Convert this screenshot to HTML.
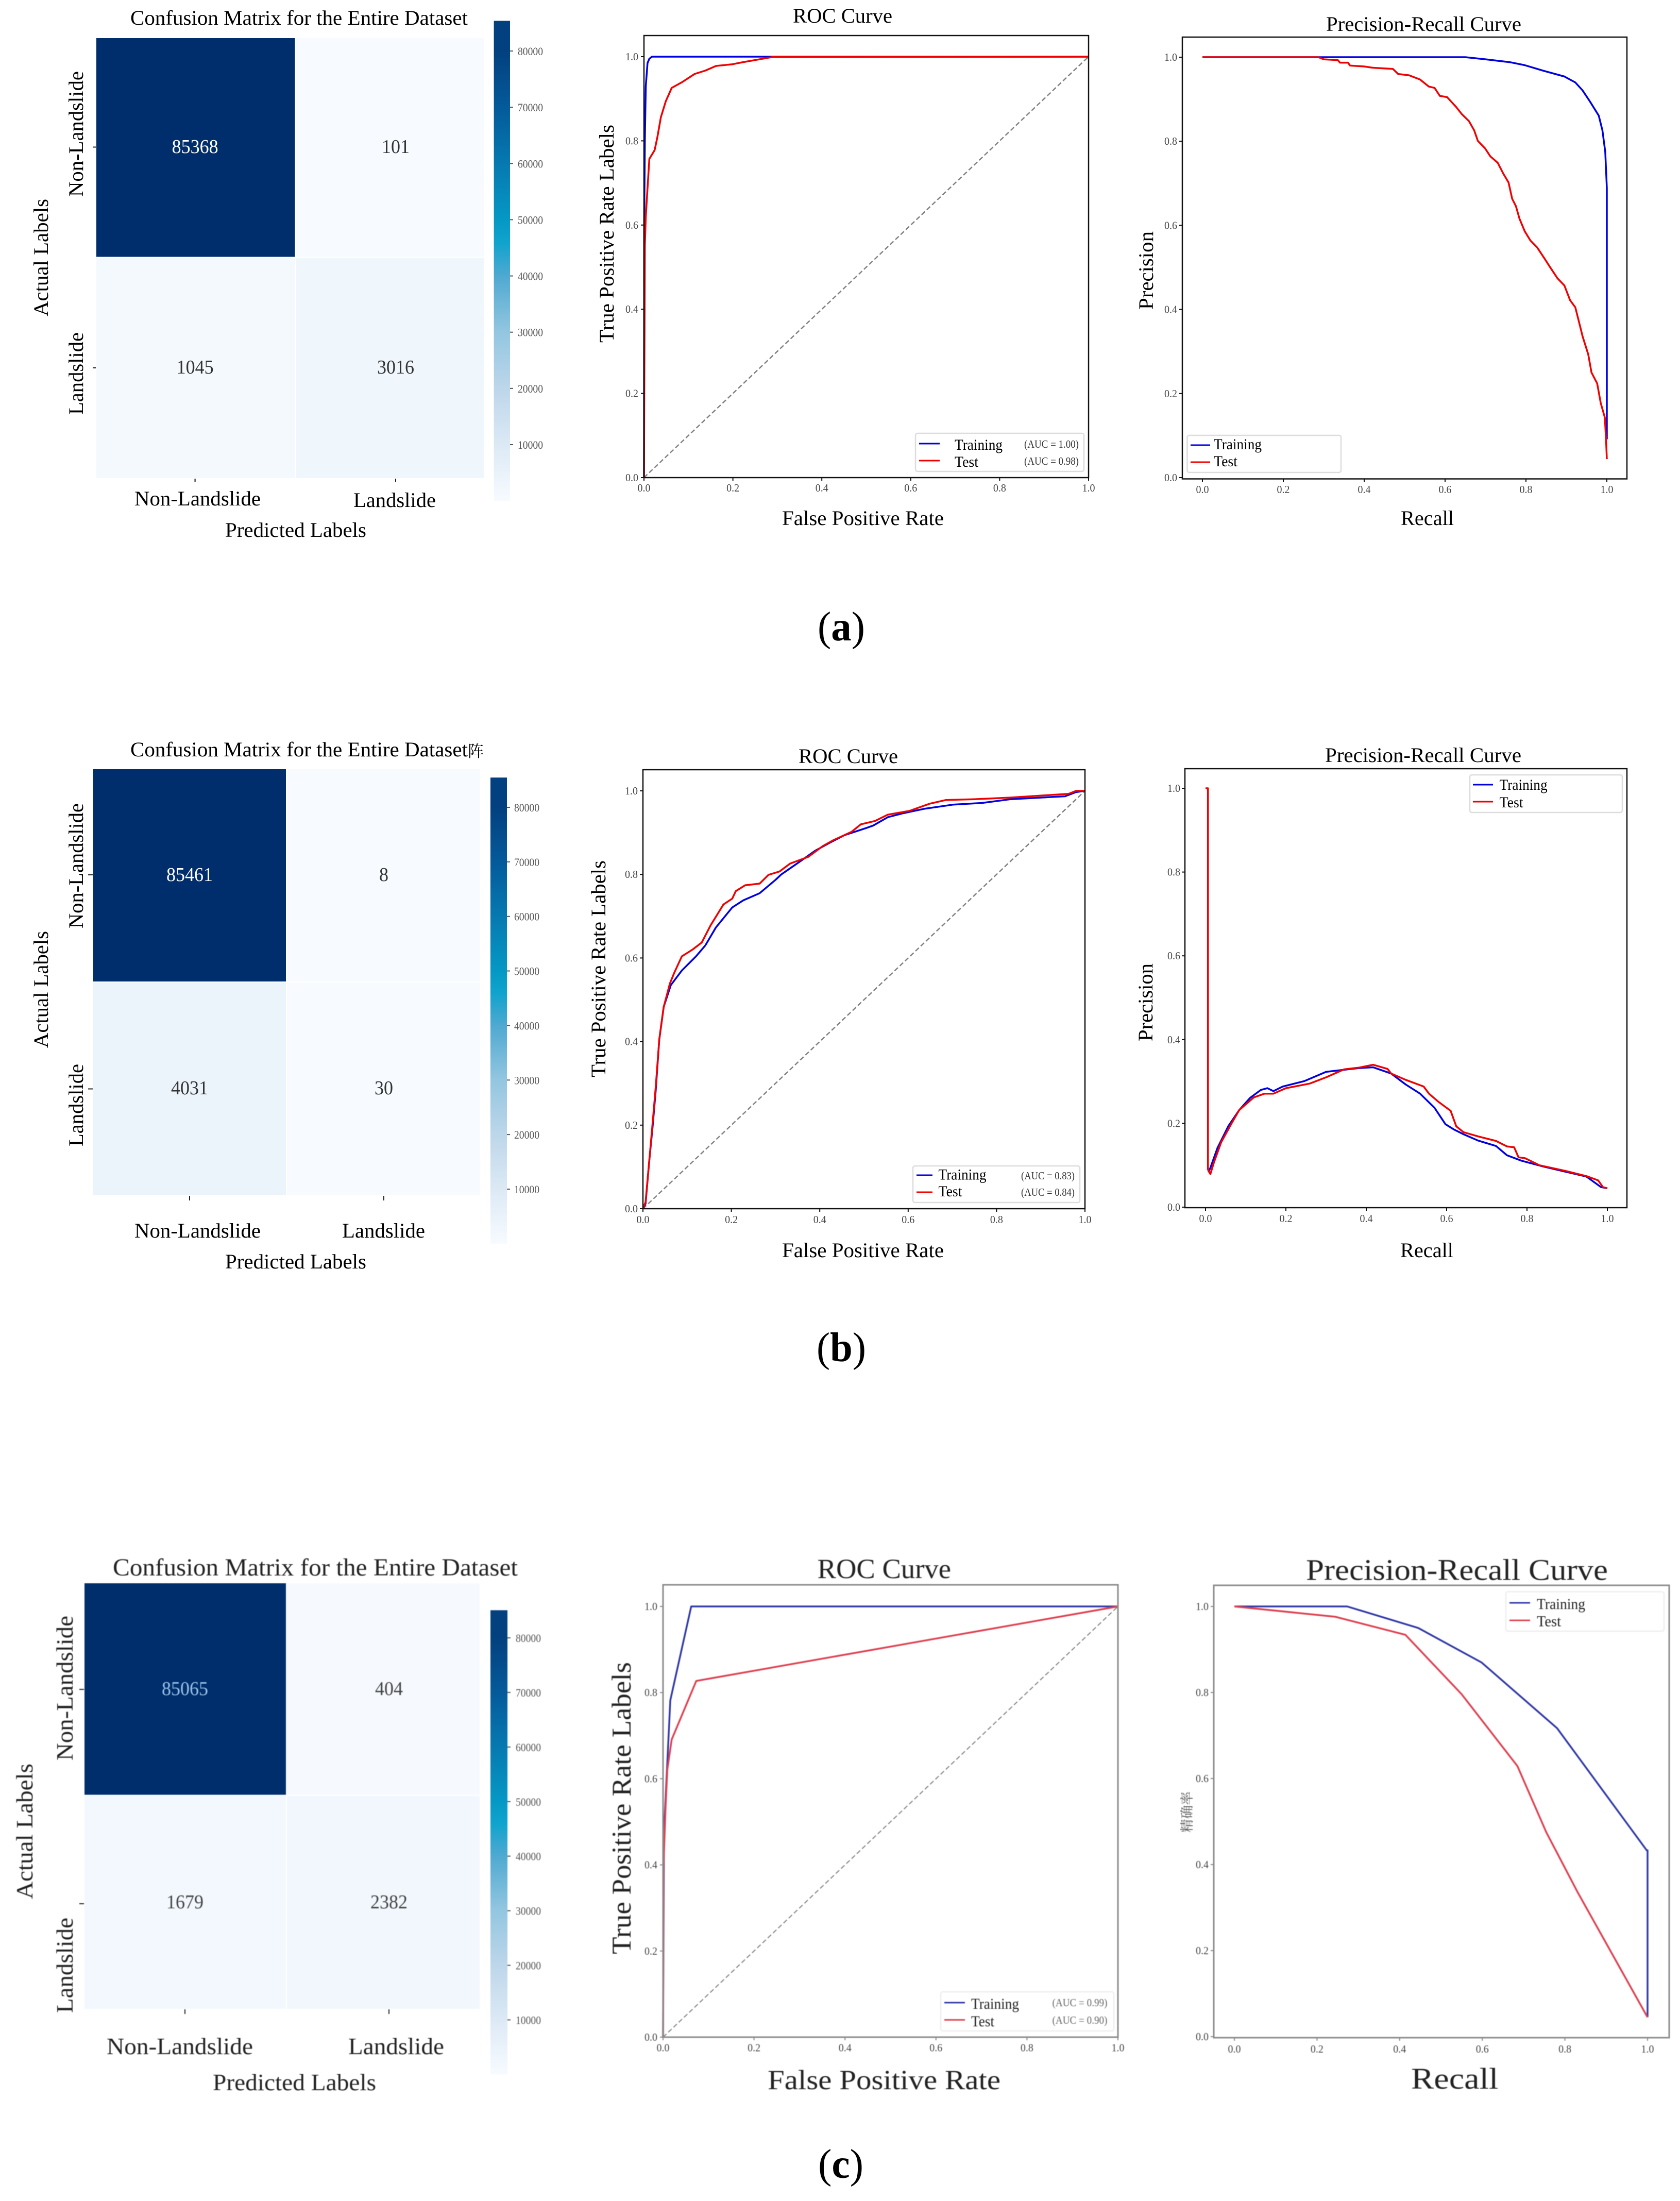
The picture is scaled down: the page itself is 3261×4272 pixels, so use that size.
<!DOCTYPE html>
<html lang="en">
<head>
<meta charset="utf-8">
<title>Confusion matrices, ROC and precision-recall curves</title>
<style>
html,body{margin:0;padding:0;background:#fff;}
svg{display:block;}
text{font-family:"Liberation Serif","Noto Serif CJK SC",serif;fill:#000;}
.t{font-size:40px;}
.leg{font-size:30px;}
.auc{font-size:21px;fill:#333;}
.cap{font-size:80px;}
.lb{fill:#fff;stroke:#dcdcdc;stroke-width:2.5;}
.soft{filter:blur(0.9px);}
.soft text{fill:#222;}
</style>
</head>
<body>
<svg id="figure" xmlns="http://www.w3.org/2000/svg" width="3261" height="4272" viewBox="0 0 3261 4272">
<rect x="0" y="0" width="3261" height="4272" fill="#ffffff"/>
<defs id="defs"></defs>

<!-- ROW A -->
<g>
  <g id="cm-a"></g>
  <g>
    <text class="t" x="253" y="48" textLength="655" lengthAdjust="spacingAndGlyphs">Confusion Matrix for the Entire Dataset</text>
    <text class="t" transform="translate(161,382) rotate(-90)" textLength="244" lengthAdjust="spacingAndGlyphs">Non-Landslide</text>
    <text class="t" transform="translate(161,805) rotate(-90)" textLength="160" lengthAdjust="spacingAndGlyphs">Landslide</text>
    <text class="t" transform="translate(93,614) rotate(-90)" textLength="228" lengthAdjust="spacingAndGlyphs">Actual Labels</text>
    <text class="t" x="261" y="981" textLength="245" lengthAdjust="spacingAndGlyphs">Non-Landslide</text>
    <text class="t" x="686" y="984" textLength="160" lengthAdjust="spacingAndGlyphs">Landslide</text>
    <text class="t" x="437" y="1042" textLength="274" lengthAdjust="spacingAndGlyphs">Predicted Labels</text>
  </g>

  <g id="roc-a"></g>
  <g>
    <text class="t" x="1539" y="44" textLength="193" lengthAdjust="spacingAndGlyphs">ROC Curve</text>
    <text class="t" transform="translate(1191,665) rotate(-90)" textLength="423" lengthAdjust="spacingAndGlyphs">True Positive Rate Labels</text>
    <text class="t" x="1518" y="1019" textLength="314" lengthAdjust="spacingAndGlyphs">False Positive Rate</text>
    <g>
      <rect class="lb" x="1777" y="841" width="327" height="74" rx="4"/>
      <line x1="1784" x2="1824" y1="861" y2="861" stroke="#0000e0" stroke-width="3"/>
      <line x1="1784" x2="1824" y1="894" y2="894" stroke="#f00000" stroke-width="3"/>
      <text class="leg" x="1853" y="873" textLength="93" lengthAdjust="spacingAndGlyphs">Training</text>
      <text class="leg" x="1853" y="906" textLength="46" lengthAdjust="spacingAndGlyphs">Test</text>
      <text class="auc" x="1988" y="869" textLength="106" lengthAdjust="spacingAndGlyphs">(AUC = 1.00)</text>
      <text class="auc" x="1988" y="902" textLength="106" lengthAdjust="spacingAndGlyphs">(AUC = 0.98)</text>
    </g>
  </g>

  <g id="pr-a"></g>
  <g>
    <text class="t" x="2574" y="60" textLength="379" lengthAdjust="spacingAndGlyphs">Precision-Recall Curve</text>
    <text class="t" transform="translate(2238,601) rotate(-90)" textLength="152" lengthAdjust="spacingAndGlyphs">Precision</text>
    <text class="t" x="2719" y="1019" textLength="103" lengthAdjust="spacingAndGlyphs">Recall</text>
    <g>
      <rect class="lb" x="2304.5" y="845" width="298.5" height="72" rx="4"/>
      <line x1="2311" x2="2349" y1="864" y2="864" stroke="#0000e0" stroke-width="3"/>
      <line x1="2311" x2="2349" y1="897" y2="897" stroke="#f00000" stroke-width="3"/>
      <text class="leg" x="2356" y="872" textLength="93" lengthAdjust="spacingAndGlyphs">Training</text>
      <text class="leg" x="2356" y="905" textLength="46" lengthAdjust="spacingAndGlyphs">Test</text>
    </g>
  </g>
  <text class="cap" x="1587" y="1243" textLength="92" lengthAdjust="spacingAndGlyphs">(<tspan font-weight="bold">a</tspan>)</text>
</g>

<!-- ROW B -->
<g>
  <g id="cm-b"></g>
  <g>
    <text class="t" x="253" y="1468" textLength="655" lengthAdjust="spacingAndGlyphs">Confusion Matrix for the Entire Dataset</text>
    <text x="908" y="1469" style="font-size:31px;font-family:'Liberation Serif','Noto Serif CJK SC',serif">阵</text>
    <text class="t" transform="translate(161,1802) rotate(-90)" textLength="243" lengthAdjust="spacingAndGlyphs">Non-Landslide</text>
    <text class="t" transform="translate(161,2225) rotate(-90)" textLength="160" lengthAdjust="spacingAndGlyphs">Landslide</text>
    <text class="t" transform="translate(93,2034) rotate(-90)" textLength="227" lengthAdjust="spacingAndGlyphs">Actual Labels</text>
    <text class="t" x="261" y="2402" textLength="245" lengthAdjust="spacingAndGlyphs">Non-Landslide</text>
    <text class="t" x="664" y="2402" textLength="161" lengthAdjust="spacingAndGlyphs">Landslide</text>
    <text class="t" x="437" y="2462" textLength="274" lengthAdjust="spacingAndGlyphs">Predicted Labels</text>
  </g>

  <g id="roc-b"></g>
  <g>
    <text class="t" x="1550" y="1481" textLength="193" lengthAdjust="spacingAndGlyphs">ROC Curve</text>
    <text class="t" transform="translate(1175,2091) rotate(-90)" textLength="421" lengthAdjust="spacingAndGlyphs">True Positive Rate Labels</text>
    <text class="t" x="1518" y="2440" textLength="314" lengthAdjust="spacingAndGlyphs">False Positive Rate</text>
    <g>
      <rect class="lb" x="1772" y="2263" width="324" height="71" rx="4"/>
      <line x1="1779" x2="1810" y1="2281" y2="2281" stroke="#0000e0" stroke-width="3"/>
      <line x1="1779" x2="1810" y1="2314" y2="2314" stroke="#f00000" stroke-width="3"/>
      <text class="leg" x="1821.5" y="2289.5" textLength="93" lengthAdjust="spacingAndGlyphs">Training</text>
      <text class="leg" x="1821.5" y="2322" textLength="46" lengthAdjust="spacingAndGlyphs">Test</text>
      <text class="auc" x="1982" y="2289" textLength="104" lengthAdjust="spacingAndGlyphs">(AUC = 0.83)</text>
      <text class="auc" x="1982" y="2321" textLength="104" lengthAdjust="spacingAndGlyphs">(AUC = 0.84)</text>
    </g>
  </g>

  <g id="pr-b"></g>
  <g>
    <text class="t" x="2572" y="1479" textLength="381" lengthAdjust="spacingAndGlyphs">Precision-Recall Curve</text>
    <text class="t" transform="translate(2237,2021) rotate(-90)" textLength="151" lengthAdjust="spacingAndGlyphs">Precision</text>
    <text class="t" x="2718" y="2440" textLength="103" lengthAdjust="spacingAndGlyphs">Recall</text>
    <g>
      <rect class="lb" x="2853" y="1504" width="296" height="73" rx="4"/>
      <line x1="2859" x2="2898" y1="1523" y2="1523" stroke="#0000e0" stroke-width="3"/>
      <line x1="2859" x2="2898" y1="1556" y2="1556" stroke="#f00000" stroke-width="3"/>
      <text class="leg" x="2910.6" y="1533" textLength="93" lengthAdjust="spacingAndGlyphs">Training</text>
      <text class="leg" x="2910.6" y="1567" textLength="46" lengthAdjust="spacingAndGlyphs">Test</text>
    </g>
  </g>
  <text class="cap" x="1585" y="2642" textLength="96" lengthAdjust="spacingAndGlyphs">(<tspan font-weight="bold">b</tspan>)</text>
</g>

<!-- ROW C -->
<g>
  <g class="soft">
    <g id="cm-c"></g>
    <g>
      <text x="219" y="3058" style="font-size:48px" textLength="786" lengthAdjust="spacingAndGlyphs">Confusion Matrix for the Entire Dataset</text>
      <text style="font-size:46px" transform="translate(141,3417) rotate(-90)" textLength="281" lengthAdjust="spacingAndGlyphs">Non-Landslide</text>
      <text style="font-size:46px" transform="translate(141,3907) rotate(-90)" textLength="185" lengthAdjust="spacingAndGlyphs">Landslide</text>
      <text style="font-size:46px" transform="translate(63,3686) rotate(-90)" textLength="263" lengthAdjust="spacingAndGlyphs">Actual Labels</text>
      <text style="font-size:46px" x="207" y="3987" textLength="284" lengthAdjust="spacingAndGlyphs">Non-Landslide</text>
      <text style="font-size:46px" x="676" y="3987" textLength="186" lengthAdjust="spacingAndGlyphs">Landslide</text>
      <text style="font-size:46px" x="413" y="4057" textLength="317" lengthAdjust="spacingAndGlyphs">Predicted Labels</text>
    </g>

    <g id="roc-c"></g>
    <g>
      <text style="font-size:54px" x="1586.5" y="3063" textLength="259.5" lengthAdjust="spacingAndGlyphs">ROC Curve</text>
      <text style="font-size:53px" transform="translate(1224,3793) rotate(-90)" textLength="567" lengthAdjust="spacingAndGlyphs">True Positive Rate Labels</text>
      <text style="font-size:54px" x="1490" y="4055" textLength="452" lengthAdjust="spacingAndGlyphs">False Positive Rate</text>
      <g>
        <rect class="lb" x="1826" y="3866" width="336" height="76" rx="4" style="stroke:#eeeeee"/>
        <line x1="1833" x2="1873" y1="3887" y2="3887" stroke="#3038a8" stroke-width="3"/>
        <line x1="1833" x2="1873" y1="3920.5" y2="3920.5" stroke="#e04050" stroke-width="3"/>
        <text class="leg" x="1885" y="3899" textLength="93" lengthAdjust="spacingAndGlyphs">Training</text>
        <text class="leg" x="1885" y="3933" textLength="45" lengthAdjust="spacingAndGlyphs">Test</text>
        <text class="auc" x="2042.5" y="3894" textLength="107" lengthAdjust="spacingAndGlyphs" style="fill:#666">(AUC = 0.99)</text>
        <text class="auc" x="2042.5" y="3928" textLength="107" lengthAdjust="spacingAndGlyphs" style="fill:#666">(AUC = 0.90)</text>
      </g>
    </g>

    <g id="pr-c"></g>
    <g>
      <text style="font-size:58px" x="2535" y="3066.5" textLength="586" lengthAdjust="spacingAndGlyphs">Precision-Recall Curve</text>
      <text transform="translate(2313,3557) rotate(-90)" style="font-size:26px;fill:#555" textLength="80" lengthAdjust="spacingAndGlyphs">精确率</text>
      <text style="font-size:58px" x="2739" y="4054" textLength="169.5" lengthAdjust="spacingAndGlyphs">Recall</text>
      <g>
        <rect class="lb" x="2923" y="3089.5" width="307" height="76.5" rx="4" style="stroke:#eeeeee"/>
        <line x1="2930" x2="2970" y1="3111" y2="3111" stroke="#3038a8" stroke-width="3"/>
        <line x1="2930" x2="2970" y1="3145" y2="3145" stroke="#e04050" stroke-width="3"/>
        <text class="leg" x="2983" y="3123" textLength="94" lengthAdjust="spacingAndGlyphs">Training</text>
        <text class="leg" x="2983" y="3156.5" textLength="47" lengthAdjust="spacingAndGlyphs">Test</text>
      </g>
    </g>
  </g>
  <text class="cap" x="1588" y="4227" textLength="88" lengthAdjust="spacingAndGlyphs">(<tspan font-weight="bold">c</tspan>)</text>
</g>
</svg>

<script>
// ---- confusion matrix values (row by row) ----
const cmAValues = [85368, 101, 1045, 3016];
const cmBValues = [85461, 8, 4031, 30];
const cmCValues = [85065, 404, 1679, 2382];
const colorbarTickValues = [10000, 20000, 30000, 40000, 50000, 60000, 70000, 80000];
const colorbarTickLabels = ['10000', '20000', '30000', '40000', '50000', '60000', '70000', '80000'];

// ---- axis ticks shared by ROC / PR charts ----
const rateTickValues = [0, 0.2, 0.4, 0.6, 0.8, 1];
const rateTickLabels = ['0.0', '0.2', '0.4', '0.6', '0.8', '1.0'];

// ---- ROC (a) ----
const rocATrainX = [0, 0.0005, 0.002, 0.004, 0.008, 0.012, 0.018, 1];
const rocATrainY = [0, 0.6, 0.8, 0.93, 0.985, 0.995, 1, 1];
const rocATestX = [0, 0.001, 0.002, 0.004, 0.007, 0.012, 0.024, 0.03, 0.038, 0.049, 0.0625, 0.085, 0.114, 0.138, 0.162, 0.199, 0.223, 0.256, 0.288, 1];
const rocATestY = [0, 0.3, 0.55, 0.62, 0.67, 0.757, 0.778, 0.808, 0.856, 0.894, 0.926, 0.939, 0.959, 0.967, 0.978, 0.982, 0.987, 0.993, 0.999, 1];

// ---- PR (a) ----
const prATrainX = [0, 0.65, 0.7, 0.761, 0.797, 0.842, 0.895, 0.922, 0.94, 0.958, 0.98, 0.989, 0.996, 1, 1];
const prATrainY = [1, 1, 0.995, 0.988, 0.981, 0.968, 0.954, 0.94, 0.921, 0.895, 0.861, 0.826, 0.775, 0.689, 0.091];
const prATestX = [0, 0.287, 0.3, 0.335, 0.34, 0.36, 0.365, 0.4, 0.42, 0.471, 0.484, 0.511, 0.538, 0.56, 0.574, 0.587, 0.605, 0.627, 0.641, 0.659, 0.672, 0.681, 0.699, 0.712, 0.73, 0.744, 0.757, 0.766, 0.775, 0.784, 0.797, 0.811, 0.828, 0.846, 0.86, 0.878, 0.895, 0.909, 0.922, 0.931, 0.94, 0.954, 0.962, 0.976, 0.985, 0.995, 0.998, 1];
const prATestY = [1, 1, 0.995, 0.993, 0.987, 0.987, 0.98, 0.978, 0.975, 0.972, 0.96, 0.957, 0.947, 0.93, 0.927, 0.908, 0.905, 0.882, 0.865, 0.848, 0.826, 0.801, 0.783, 0.764, 0.749, 0.723, 0.702, 0.663, 0.646, 0.616, 0.586, 0.564, 0.547, 0.521, 0.5, 0.474, 0.457, 0.422, 0.405, 0.371, 0.336, 0.293, 0.25, 0.224, 0.177, 0.143, 0.091, 0.044];

// ---- ROC (b) ----
const rocBTrainX = [0, 0.006, 0.014, 0.022, 0.029, 0.037, 0.047, 0.063, 0.088, 0.12, 0.141, 0.165, 0.202, 0.227, 0.264, 0.3, 0.313, 0.358, 0.39, 0.423, 0.456, 0.505, 0.521, 0.554, 0.587, 0.636, 0.701, 0.767, 0.832, 0.955, 0.98, 1];
const rocBTrainY = [0, 0.012, 0.111, 0.198, 0.284, 0.405, 0.483, 0.535, 0.57, 0.604, 0.63, 0.673, 0.721, 0.738, 0.755, 0.787, 0.8, 0.833, 0.857, 0.876, 0.894, 0.911, 0.917, 0.937, 0.946, 0.957, 0.967, 0.971, 0.98, 0.987, 0.997, 1];
const rocBTestX = [0, 0.006, 0.014, 0.022, 0.029, 0.037, 0.047, 0.061, 0.071, 0.088, 0.112, 0.133, 0.153, 0.182, 0.202, 0.21, 0.231, 0.264, 0.284, 0.309, 0.333, 0.374, 0.407, 0.431, 0.472, 0.493, 0.525, 0.554, 0.603, 0.648, 0.685, 0.75, 0.832, 0.963, 0.98, 1];
const rocBTestY = [0, 0.016, 0.111, 0.207, 0.293, 0.405, 0.483, 0.539, 0.565, 0.604, 0.62, 0.637, 0.678, 0.728, 0.742, 0.76, 0.774, 0.778, 0.799, 0.807, 0.826, 0.842, 0.868, 0.882, 0.902, 0.92, 0.928, 0.943, 0.952, 0.969, 0.978, 0.98, 0.984, 0.993, 1, 1];

// ---- PR (b) ----
const prBTrainX = [0.007, 0.012, 0.03, 0.057, 0.084, 0.111, 0.138, 0.154, 0.169, 0.192, 0.246, 0.3, 0.336, 0.381, 0.417, 0.462, 0.498, 0.534, 0.57, 0.597, 0.619, 0.642, 0.678, 0.723, 0.75, 0.786, 0.84, 0.894, 0.948, 0.984, 1];
const prBTrainY = [0.083, 0.094, 0.142, 0.194, 0.232, 0.261, 0.28, 0.284, 0.277, 0.288, 0.301, 0.323, 0.327, 0.332, 0.334, 0.319, 0.293, 0.271, 0.237, 0.198, 0.185, 0.174, 0.159, 0.146, 0.124, 0.111, 0.097, 0.085, 0.073, 0.048, 0.045];
const prBTestX = [0, 0.006, 0.006, 0.012, 0.021, 0.039, 0.066, 0.084, 0.12, 0.147, 0.169, 0.2, 0.259, 0.3, 0.345, 0.381, 0.417, 0.453, 0.462, 0.498, 0.543, 0.556, 0.579, 0.61, 0.624, 0.642, 0.678, 0.723, 0.75, 0.768, 0.779, 0.795, 0.831, 0.894, 0.948, 0.977, 0.989, 1];
const prBTestY = [1, 1, 0.09, 0.079, 0.107, 0.155, 0.202, 0.232, 0.262, 0.271, 0.271, 0.284, 0.295, 0.31, 0.329, 0.333, 0.34, 0.33, 0.319, 0.304, 0.288, 0.271, 0.252, 0.23, 0.193, 0.179, 0.169, 0.158, 0.145, 0.143, 0.119, 0.117, 0.1, 0.087, 0.074, 0.064, 0.048, 0.045];

// ---- ROC (c) ----
const rocCTrainX = [0, 0.002, 0.016, 0.062, 1];
const rocCTrainY = [0, 0.475, 0.782, 1, 1];
const rocCTestX = [0, 0.001, 0.006, 0.0095, 0.019, 0.073, 1];
const rocCTestY = [0, 0.4, 0.544, 0.622, 0.691, 0.827, 1];

// ---- PR (c) ----
const prCTrainX = [0, 0.273, 0.445, 0.598, 0.781, 0.998, 1, 1];
const prCTrainY = [1, 1, 0.95, 0.87, 0.717, 0.433, 0.433, 0.045];
const prCTestX = [0, 0.244, 0.414, 0.55, 0.685, 0.755, 0.83, 1];
const prCTestY = [1, 0.976, 0.934, 0.796, 0.629, 0.475, 0.337, 0.045];

// ---- colormap ramp of the heatmaps ----
const rampValues = [0, 10000, 20000, 30000, 40000, 46000, 50000, 60000, 70000, 80000, 85469];
const rampColors = ['#f7fbff', '#dce9f5', '#bdd6ea', '#93c6e0', '#4fa9d1', '#0fa3cd', '#0598c4', '#0679b0', '#045a9a', '#03407f', '#002d6b'];

const NS = 'http://www.w3.org/2000/svg';

function make(tag, attrs, parent) {
  const node = document.createElementNS(NS, tag);
  for (const key in attrs) node.setAttribute(key, attrs[key]);
  parent.appendChild(node);
  return node;
}

function linear(d0, d1, r0, r1) {
  return function (v) { return r0 + (v - d0) * (r1 - r0) / (d1 - d0); };
}

function hexToRgb(h) {
  return [parseInt(h.slice(1, 3), 16), parseInt(h.slice(3, 5), 16), parseInt(h.slice(5, 7), 16)];
}

function rampColor(v) {
  for (let i = 1; i < rampValues.length; i++) {
    if (v <= rampValues[i]) {
      const f = (v - rampValues[i - 1]) / (rampValues[i] - rampValues[i - 1]);
      const a = hexToRgb(rampColors[i - 1]);
      const b = hexToRgb(rampColors[i]);
      return 'rgb(' + a.map(function (c, k) { return Math.round(c + (b[k] - c) * f); }).join(',') + ')';
    }
  }
  return rampColors[rampColors.length - 1];
}

function drawMatrix(id, values, cfg) {
  const g = document.getElementById(id);
  const xs = [cfg.left, cfg.midX, cfg.right];
  const ys = [cfg.top, cfg.midY, cfg.bottom];
  for (let r = 0; r < 2; r++) {
    for (let c = 0; c < 2; c++) {
      const v = values[r * 2 + c];
      const cell = make('rect', { x: xs[c], y: ys[r], width: xs[c + 1] - xs[c], height: ys[r + 1] - ys[r], fill: rampColor(v), stroke: '#ffffff', 'stroke-width': 2 }, g);
      
      
    }
  }
  for (let r = 0; r < 2; r++) {
    for (let c = 0; c < 2; c++) {
      const v = values[r * 2 + c];
      const s = String(v);
      const label = make('text', { x: cfg.tickX[c], y: cfg.valueBase[r], 'text-anchor': 'middle', textLength: s.length * 18, lengthAdjust: 'spacingAndGlyphs' }, g);
      label.style.fontSize = '38px';
      label.style.fill = v > 40000 ? cfg.darkCellText : cfg.cellText;
      label.textContent = s;
      
      
      const tx = make('line', { x1: cfg.tickX[c], x2: cfg.tickX[c], y1: cfg.bottom, y2: cfg.bottom + cfg.tickLen, stroke: '#222', 'stroke-width': 2 }, g);
      
      
    }
    const ty = make('line', { x1: cfg.left - cfg.tickLen, x2: cfg.left, y1: cfg.tickY[r], y2: cfg.tickY[r], stroke: '#222', 'stroke-width': 2 }, g);
    
    
  }

  // colour bar, driven by tick calibration
  const vmax = Math.max.apply(null, values);
  const cy = linear(80000, 10000, cfg.barY80, cfg.barY10);
  const defs = document.getElementById('defs');
  const grad = make('linearGradient', { id: id + '-grad', x1: 0, y1: 0, x2: 0, y2: 1 }, defs);
  for (let i = rampValues.length - 1; i >= 0; i--) {
    if (rampValues[i] <= vmax) {
      make('stop', { offset: 1 - rampValues[i] / vmax, 'stop-color': rampColors[i] }, grad);
    }
  }
  const bar = make('rect', { x: cfg.barL, y: cy(vmax), width: cfg.barR - cfg.barL, height: cy(0) - cy(vmax), fill: 'url(#' + id + '-grad)' }, g);
  
  
  colorbarTickValues.forEach(function (v, i) {
    const tick = make('line', { x1: cfg.barR, x2: cfg.barR + 6, y1: cy(v), y2: cy(v), stroke: '#555', 'stroke-width': 2 }, g);
    
    
    const label = make('text', { x: cfg.barLabelX, y: cy(v) + 8, textLength: 49, lengthAdjust: 'spacingAndGlyphs' }, g);
    label.style.fontSize = '22px';
    label.style.fill = '#555';
    label.textContent = colorbarTickLabels[i];
    
    
  });
}

function drawSeries(g, xs, ys, sx, sy, color, width, name) {
  const pts = xs.map(function (x, i) { return sx(x).toFixed(1) + ',' + sy(ys[i]).toFixed(1); }).join(' ');
  const line = make('polyline', { points: pts, fill: 'none', stroke: color, 'stroke-width': width, 'stroke-linejoin': 'round' }, g);
  
  
}

function drawCurves(id, cfg, trainX, trainY, testX, testY) {
  const g = document.getElementById(id);
  const sx = linear(0, 1, cfg.x0, cfg.x1);
  const sy = linear(0, 1, cfg.y0, cfg.y1);
  rateTickValues.forEach(function (v, i) {
    const tx = make('line', { x1: sx(v), x2: sx(v), y1: cfg.bottom, y2: cfg.bottom + 6, stroke: cfg.axis, 'stroke-width': 2 }, g);
    
    
    const ty = make('line', { x1: cfg.left - 6, x2: cfg.left, y1: sy(v), y2: sy(v), stroke: cfg.axis, 'stroke-width': 2 }, g);
    
    
    const lx = make('text', { x: sx(v), y: cfg.xLabelCy + 7, 'text-anchor': 'middle', textLength: 25, lengthAdjust: 'spacingAndGlyphs' }, g);
    lx.style.fontSize = '21px';
    lx.style.fill = '#444';
    lx.textContent = rateTickLabels[i];
    
    
    const ly = make('text', { x: cfg.yLabelEnd, y: sy(v) + 7, 'text-anchor': 'end', textLength: 25, lengthAdjust: 'spacingAndGlyphs' }, g);
    ly.style.fontSize = '21px';
    ly.style.fill = '#444';
    ly.textContent = rateTickLabels[i];
    
    
  });
  if (cfg.diagonal) {
    const d = make('line', { x1: sx(0), y1: sy(0), x2: sx(1), y2: sy(1), stroke: cfg.diagColor, 'stroke-width': cfg.diagWidth, 'stroke-dasharray': '9 5' }, g);
    
    
  }
  drawSeries(g, trainX, trainY, sx, sy, cfg.trainColor, cfg.lineWidth, id + '-training-line');
  drawSeries(g, testX, testY, sx, sy, cfg.testColor, cfg.lineWidth, id + '-test-line');
  const frame = make('rect', { x: cfg.left, y: cfg.top, width: cfg.right - cfg.left, height: cfg.bottom - cfg.top, fill: 'none', stroke: cfg.axis, 'stroke-width': cfg.axisWidth }, g);
  
  
}

const crisp = { axis: '#111', axisWidth: 2.5, trainColor: '#0000e0', testColor: '#f00000', lineWidth: 3.5, diagColor: '#808080', diagWidth: 2.5 };
const soft = { axis: '#8a8a8a', axisWidth: 3, trainColor: '#3038a8', testColor: '#e04050', lineWidth: 3.5, diagColor: '#808080', diagWidth: 2 };

drawMatrix('cm-a', cmAValues, { left: 186, midX: 573.6, right: 940, top: 73, midY: 499.5, bottom: 929, tickX: [378.6, 768], tickY: [285.5, 714], valueBase: [297, 725], tickLen: 6, cellText: '#333', darkCellText: '#fff', barL: 958.6, barR: 990, barY80: 99, barY10: 863, barLabelX: 1005 });
drawMatrix('cm-b', cmBValues, { left: 180, midX: 556, right: 933, top: 1492, midY: 1906, bottom: 2321, tickX: [368, 745], tickY: [1698, 2113.5], valueBase: [1710, 2124], tickLen: 9, cellText: '#333', darkCellText: '#fff', barL: 952, barR: 984, barY80: 1567, barY10: 2308, barLabelX: 998 });
drawMatrix('cm-c', cmCValues, { left: 163, midX: 556, right: 932, top: 3072, midY: 3484.5, bottom: 3900, tickX: [359, 755], tickY: [3279, 3695], valueBase: [3290, 3704], tickLen: 9, cellText: '#444', darkCellText: '#9cc4e8', barL: 952, barR: 985, barY80: 3179, barY10: 3920.5, barLabelX: 1001 });

drawCurves('roc-a', Object.assign({}, crisp, { diagonal: true, left: 1250, right: 2113, top: 69, bottom: 927, x0: 1250, x1: 2113, y0: 927, y1: 110, yLabelEnd: 1239, xLabelCy: 947 }), rocATrainX, rocATrainY, rocATestX, rocATestY);
drawCurves('pr-a', Object.assign({}, crisp, { diagonal: false, left: 2295, right: 3158, top: 72, bottom: 929.5, x0: 2334, x1: 3119, y0: 927, y1: 111, yLabelEnd: 2285, xLabelCy: 950 }), prATrainX, prATrainY, prATestX, prATestY);
drawCurves('roc-b', Object.assign({}, crisp, { diagonal: true, left: 1248, right: 2106, top: 1494, bottom: 2346, x0: 1248, x1: 2106, y0: 2346, y1: 1535, yLabelEnd: 1238, xLabelCy: 2367 }), rocBTrainX, rocBTrainY, rocBTestX, rocBTestY);
drawCurves('pr-b', Object.assign({}, crisp, { diagonal: false, left: 2300, right: 3158, top: 1492, bottom: 2344, x0: 2340, x1: 3120, y0: 2343, y1: 1530, yLabelEnd: 2291, xLabelCy: 2365 }), prBTrainX, prBTrainY, prBTestX, prBTestY);
drawCurves('roc-c', Object.assign({}, soft, { diagonal: true, left: 1287, right: 2170, top: 3076, bottom: 3954, x0: 1287, x1: 2170, y0: 3954, y1: 3118, yLabelEnd: 1276, xLabelCy: 3974.5 }), rocCTrainX, rocCTrainY, rocCTestX, rocCTestY);
drawCurves('pr-c', Object.assign({}, soft, { diagonal: false, left: 2356, right: 3240, top: 3077, bottom: 3955, x0: 2396, x1: 3198, y0: 3953, y1: 3118, yLabelEnd: 2346, xLabelCy: 3977 }), prCTrainX, prCTrainY, prCTestX, prCTestY);
</script>
</body>
</html>
